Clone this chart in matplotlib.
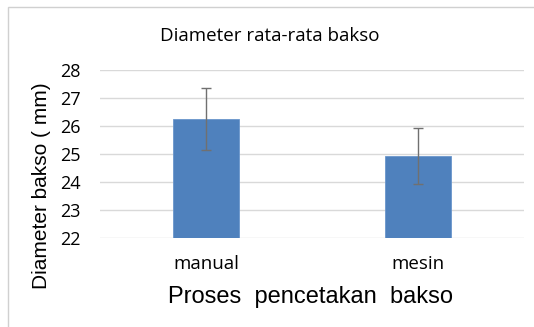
import matplotlib
matplotlib.use("Agg")
import matplotlib.pyplot as plt
from matplotlib.patches import Rectangle

# data
categories = ["manual", "mesin"]
mean_diameter = [26.25, 24.93]
std_err = [1.1, 1.01]
y_ticks = [22, 23, 24, 25, 26, 27, 28]

BAR_COLOR = "#4f81bd"
GRID_COLOR = "#d9d9d9"
TICK_FONT = "Open Sans"

fig = plt.figure(figsize=(5.34, 3.27), dpi=100)

# light outer frame like the Excel chart area
fig.patches.append(Rectangle((7.5 / 534, -0.1), 1.2, (327 - 7.5) / 327 + 0.1,
                             transform=fig.transFigure, fill=False,
                             edgecolor="#d0d0d0", linewidth=1.0))

# plot area: x 100..524 px, y 70..238 px
ax = fig.add_axes([100 / 534, 89 / 327, 424 / 534, 168 / 327])
x = range(len(categories))
ax.bar(x, mean_diameter, width=0.31, bottom=0, color=BAR_COLOR,
       edgecolor="#6a96cc", linewidth=0.6, zorder=3)
ax.errorbar(x, mean_diameter, yerr=std_err, fmt="none", ecolor="#707070",
            elinewidth=1.0, capsize=3.5, capthick=1.0, zorder=4)

ax.set_xlim(-0.5, 1.5)
ax.set_ylim(22, 28)
ax.set_yticks(y_ticks)
ax.set_yticklabels([str(t) for t in y_ticks], fontsize=13, family=TICK_FONT)
ax.set_xticks(list(x))
ax.set_xticklabels(categories, fontsize=13.5, family=TICK_FONT)
ax.xaxis.set_tick_params(length=0, pad=12)
ax.yaxis.set_tick_params(length=0, pad=14)
ax.yaxis.grid(True, color=GRID_COLOR, linewidth=1.0, zorder=0)
for s in ax.spines.values():
    s.set_visible(False)

fig.text(270 / 534, 1 - 36 / 327, "Diameter rata-rata bakso", ha="center",
         va="center", fontsize=13.5, family=TICK_FONT)
fig.text(311 / 534, 1 - 297 / 327, "Proses  pencetakan  bakso", ha="center",
         va="center", fontsize=17, family="Liberation Sans")
fig.text(42 / 534, 1 - 186 / 327, "Diameter bakso ( mm)", ha="center",
         va="center", rotation=90, fontsize=15, family="Liberation Sans")

fig.savefig("out.png", dpi=100, facecolor="white")
